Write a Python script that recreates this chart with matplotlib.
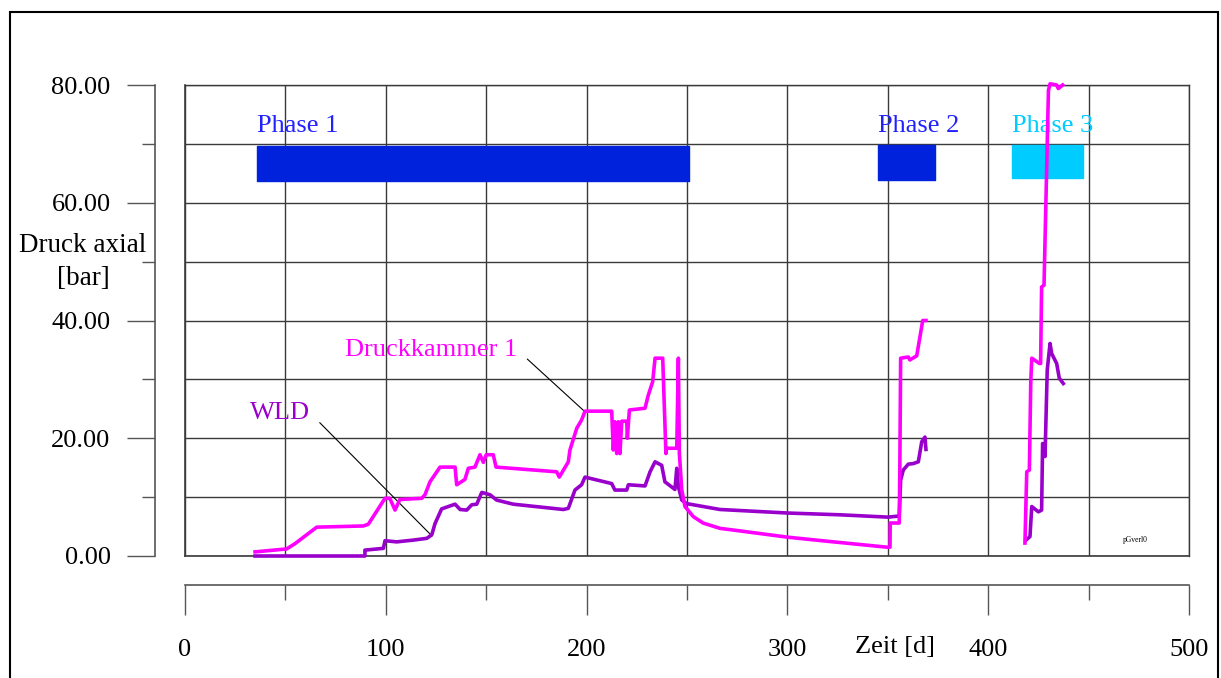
import numpy as np
import matplotlib
matplotlib.use("Agg")
import matplotlib.pyplot as plt
from matplotlib.patches import Rectangle
from matplotlib.ticker import MultipleLocator, FormatStrFormatter

plt.rcParams['font.family'] = ['Liberation Serif', 'DejaVu Serif']

# Druckkammer 1 (magenta)
dk_t = [34.9, 50.6, 54.8, 65.6, 88.8, 91.3, 99.6, 102, 104.6, 107, 117.9, 119.5,
        122, 127, 134.5, 135.3, 139.4, 141.1, 144.4, 146.9, 148.6, 150, 153.5,
        154.9, 185.1, 186.4, 190.9, 191.7, 195.1, 197.5, 199.2, 212.5, 213.3,
        214.1, 215, 215.8, 216.6, 217.5, 220, 220.3, 221.3, 229.1, 230.7, 232.9,
        234.1, 237.9, 239.5, 239.6, 244.9, 245.7, 246.2, 247.4, 249, 253.1, 258,
        266.4, 280, 300, 320, 349.5, 351.1, 351.2, 355.7, 356, 356.4, 360.2, 361,
        364.4, 367.4, 369, np.nan, 418.3, 419.2, 420.5, 421.2, 421.7, 425.5, 426.1,
        426.6, 427.8, 430, 430.8, 434.1, 434.9, 437.1]
dk_v = [0.7, 1.2, 2.1, 4.9, 5.1, 5.4, 9.8, 9.8, 7.8, 9.6, 9.8, 10.4,
        12.6, 15.1, 15.1, 12.1, 13.0, 14.9, 15.1, 17.2, 15.9, 17.2, 17.2,
        15.1, 14.3, 13.4, 16.0, 18.0, 21.7, 23.1, 24.6, 24.6, 18.0,
        22.8, 17.4, 22.8, 17.4, 22.9, 22.9, 20.0, 24.8, 25.1, 27.3, 29.6,
        33.6, 33.6, 17.4, 18.3, 18.3, 33.6, 17.4, 11.2, 8.4, 6.7, 5.6,
        4.7, 4.1, 3.2, 2.5, 1.5, 1.5, 5.6, 5.6, 15.2, 33.6, 33.8, 33.3,
        34.0, 40.0, 40.0, np.nan, 2.2, 14.3, 14.6, 29.6, 33.6, 32.7, 32.7,
        45.7, 46.0, 79.1, 80.2, 80.0, 79.4, 80.0]

# WLD (purple)
wld_t = [34.9, 89.6, 89.6, 98.8, 99.6, 105.4, 113.7, 120.4, 122.9, 124.5, 127.8,
         134.5, 137, 140.3, 142.8, 145.3, 147.8, 151.9, 155.2, 163.5, 188.4, 190.9,
         194.2, 197.5, 199.2, 212.5, 214.1, 220, 220.8, 229.1, 231.6, 234.1, 237.4,
         239, 244, 244.9, 245.7, 247.4, 249.8, 266.4, 300, 326, 350.2, 355.7, 356.4,
         357.7, 360.2, 362.7, 365.2, 366.9, 368.5, 369, np.nan, 418.8, 420.8, 421.7,
         425, 426.6, 427.1, 428.3, 429.4, 430.8, 431.6, 434.1, 435.4, 437.4]
wld_v = [0, 0, 1.0, 1.3, 2.6, 2.4, 2.7, 3.0, 3.6, 5.5, 8.0,
         8.8, 7.9, 7.8, 8.7, 8.8, 10.8, 10.4, 9.5, 8.8, 7.9, 8.1,
         11.2, 12.1, 13.4, 12.3, 11.2, 11.2, 12.1, 11.9, 14.3, 16.0, 15.4,
         12.6, 11.3, 14.9, 11.8, 9.5, 8.9, 7.9, 7.3, 7.0, 6.6, 6.8, 12.9,
         14.6, 15.6, 15.7, 16.0, 19.4, 20.2, 18.1, np.nan, 2.7, 3.3, 8.4,
         7.5, 7.8, 19.1, 16.9, 31.6, 36.1, 34.4, 32.7, 30.2, 29.3]

# phases
phase_names = ['Phase 1', 'Phase 2', 'Phase 3']
phase_start = [35.9, 345, 412]
phase_end = [251, 373.5, 447]
phase_low = [63.7, 63.9, 64.2]
phase_high = [69.6, 69.8, 69.8]
phase_colors = ['#0022DD', '#0022DD', '#00CCFF']
phase_text_colors = ['#2222FF', '#2222FF', '#00CCFF']

W, H = 1221, 678
fig = plt.figure(figsize=(W / 100, H / 100), dpi=100)
ax = fig.add_axes([185 / W, 1 - 556 / H, 1004 / W, 471 / H])

for i in range(3):
    ax.broken_barh([(phase_start[i], phase_end[i] - phase_start[i])],
                   (phase_low[i], phase_high[i] - phase_low[i]),
                   color=phase_colors[i], zorder=2)
    ax.text(phase_start[i], 73.1, phase_names[i], color=phase_text_colors[i],
            fontsize=19, ha='left', va='center', zorder=3)

ax.plot(wld_t, wld_v, color='#9900CC', lw=2.6, zorder=4, clip_on=False)
ax.plot(dk_t, dk_v, color='#FF00FF', lw=2.6, zorder=5, clip_on=False)

ax.annotate('Druckkammer 1', xy=(199.5, 24.4), xytext=(165.5, 35.0),
            color='#FF00FF', fontsize=19, ha='right', va='center',
            arrowprops=dict(arrowstyle='-', color='black', lw=0.8,
                            relpos=(1, 0.5), shrinkA=7, shrinkB=0))
ax.annotate('WLD', xy=(123, 3.4), xytext=(62.3, 24.3),
            color='#9900CC', fontsize=19, ha='right', va='center',
            arrowprops=dict(arrowstyle='-', color='black', lw=0.8,
                            relpos=(1, 0.5), shrinkA=7, shrinkB=0))
ax.text(473, 2.8, 'pGverl0', fontsize=5.5, ha='center', va='center')

ax.set_xlim(0, 500)
ax.set_ylim(0, 80)
ax.xaxis.set_major_locator(MultipleLocator(100))
ax.xaxis.set_minor_locator(MultipleLocator(50))
ax.yaxis.set_major_locator(MultipleLocator(20))
ax.yaxis.set_minor_locator(MultipleLocator(10))
ax.yaxis.set_major_formatter(FormatStrFormatter('%.2f'))
ax.grid(which='both', color='#3a3a3a', lw=1.0, zorder=1)
ax.set_axisbelow(True)
# frame edges of the plotting area (left and bottom spines are detached)
ax.axhline(0, color='#3a3a3a', lw=1.2, zorder=1, clip_on=False)
ax.axvline(0, color='#3a3a3a', lw=1.2, zorder=1, clip_on=False)

ax.spines['left'].set_position(('outward', 21.6))
ax.spines['bottom'].set_position(('outward', 20.9))
for s in ['left', 'bottom']:
    ax.spines[s].set_color('#555555')
    ax.spines[s].set_linewidth(1.2)
for s in ['top', 'right']:
    ax.spines[s].set_color('#3a3a3a')
    ax.spines[s].set_linewidth(1.0)

ax.tick_params(axis='y', which='major', length=20, width=1, color='#555555',
               pad=12, labelsize=19)
ax.tick_params(axis='y', which='minor', length=9.4, width=1, color='#555555')
ax.tick_params(axis='x', which='major', length=21.6, width=1, color='#555555',
               pad=17, labelsize=19)
ax.tick_params(axis='x', which='minor', length=10.8, width=1, color='#555555')

fig.text(83 / W, 1 - 262 / H, 'Druck axial\n[bar]', fontsize=19.5,
         ha='center', va='center', linespacing=1.45)
fig.text(895 / W, 1 - 647 / H, 'Zeit [d]', fontsize=19, ha='center', va='center')

fig.add_artist(Rectangle((10 / W, -0.1), (1218 - 10) / W, (678 - 12) / H + 0.1,
                         transform=fig.transFigure, fill=False, ec='black', lw=1.5))

fig.savefig('out.png', dpi=100)
